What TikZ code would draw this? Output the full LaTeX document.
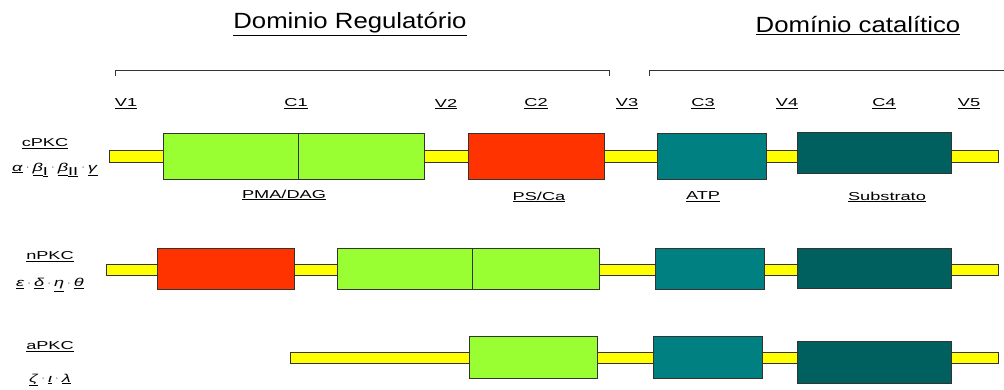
\documentclass[tikz,border=0pt]{standalone}
\usepackage{fontspec}
\setmainfont{Liberation Sans}
\definecolor{pkcgreen}{HTML}{99FF33}
\definecolor{pkcred}{HTML}{FF3300}
\definecolor{pkcteal}{HTML}{008080}
\definecolor{pkcdark}{HTML}{006060}
\definecolor{pkcyellow}{HTML}{FFFF00}
\definecolor{edgegray}{HTML}{333333}
\newcommand{\gsep}{\,\raisebox{0.25ex}{\scriptsize ·}\,}
\newcommand{\gl}[1]{\underline{\textit{#1}}}

\begin{document}
\begin{tikzpicture}[x=1pt,y=-1pt,
  lbl/.style={font=\fontsize{11.5}{13}\selectfont, xscale=1.58, inner sep=0pt},
  ttl/.style={font=\fontsize{22}{26}\selectfont, xscale=1.17, inner sep=0pt},
  bar/.style={fill=pkcyellow, draw=edgegray, line width=0.8pt},
  dom/.style={draw=edgegray, line width=0.8pt}]
  \useasboundingbox (0,0) rectangle (1004,389);

  % titles and brackets
  \node[ttl] (regtitle) at (350,24) {\underline{Dominio Regulatório}};
  \node[ttl] (cattitle) at (858,26) {\underline{Domínio catalítico}};
  \draw[dom] (115,76) -- (115,70) -- (609,70) -- (609,76);
  \draw[dom] (649,76) -- (649,70) -- (1004,70);

  % region labels
  \foreach \name/\x in {V1/126, C1/296, V2/446, C2/536, V3/627, C3/703, V4/787, C4/884, V5/969}
    \node[lbl] (\name) at (\x,104) {\underline{\name}};

  % cPKC
  \node[lbl] (cpkc) at (45,144) {\underline{cPKC}};
  \node[lbl] (cgreek) at (55,170) {\gl{α}\gsep\gl{β}\raisebox{-0.7ex}{\underline{I}}\gsep\gl{β}\raisebox{-0.7ex}{\underline{II}}\gsep\gl{γ}};
  \draw[bar] (109,150) rectangle (998,162);
  \draw[dom, fill=pkcgreen] (163,133) rectangle (298,179);
  \draw[dom, fill=pkcgreen] (298,133) rectangle (424,179);
  \draw[dom, fill=pkcred] (468,133) rectangle (604,179);
  \draw[dom, fill=pkcteal] (657,133) rectangle (766,179);
  \draw[dom, fill=pkcdark] (797,132) rectangle (951,173);
  \node[lbl] (pmadag) at (284,195) {\underline{PMA/DAG}};
  \node[lbl] (psca) at (539,197) {\underline{PS/Ca}};
  \node[lbl] (atp) at (703,197) {\underline{ATP}};
  \node[lbl] (substrato) at (887,197) {\underline{Substrato}};

  % nPKC
  \node[lbl] (npkc) at (50,257) {\underline{nPKC}};
  \node[lbl] (ngreek) at (50,285) {\gl{ε}\gsep\gl{δ}\gsep\gl{η}\gsep\gl{θ}};
  \draw[bar] (106,264) rectangle (998,275);
  \draw[dom, fill=pkcred] (157,248) rectangle (294,289);
  \draw[dom, fill=pkcgreen] (337,248) rectangle (472,289);
  \draw[dom, fill=pkcgreen] (472,248) rectangle (599,289);
  \draw[dom, fill=pkcteal] (655,248) rectangle (764,289);
  \draw[dom, fill=pkcdark] (797,248) rectangle (951,288);

  % aPKC
  \node[lbl] (apkc) at (50,347) {\underline{aPKC}};
  \node[lbl] (agreek) at (50,380) {\gl{ζ}\gsep\gl{ι}\gsep\gl{λ}};
  \draw[bar] (290,352) rectangle (998,363);
  \draw[dom, fill=pkcgreen] (469,336) rectangle (597,378);
  \draw[dom, fill=pkcteal] (653,336) rectangle (762,378);
  \draw[dom, fill=pkcdark] (797,341) rectangle (951,383);
\end{tikzpicture}
\end{document}
